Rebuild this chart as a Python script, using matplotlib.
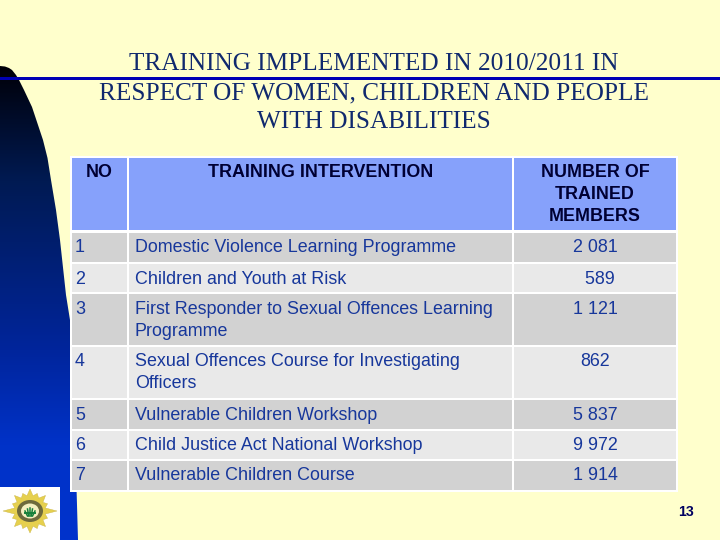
import numpy as np
import matplotlib
matplotlib.use("Agg")
import matplotlib.pyplot as plt
from matplotlib.patches import Rectangle, Polygon, Ellipse
from matplotlib.colors import LinearSegmentedColormap

title_lines = ["TRAINING IMPLEMENTED IN 2010/2011 IN",
               "RESPECT OF WOMEN, CHILDREN AND PEOPLE",
               "WITH DISABILITIES"]
headers = ["NO", "TRAINING INTERVENTION", "NUMBER OF\nTRAINED\nMEMBERS"]
numbers = ["1", "2", "3", "4", "5", "6", "7"]
interventions = ["Domestic Violence Learning Programme",
                 "Children and Youth at Risk",
                 "First Responder to Sexual Offences Learning\nProgramme",
                 "Sexual Offences Course for Investigating\nOfficers",
                 "Vulnerable Children Workshop",
                 "Child Justice Act National Workshop",
                 "Vulnerable Children Course"]
trained = ["2 081", "  589", "1 121", "862", "5 837", "9 972", "1 914"]
page_number = "13"

BG = "#FFFFCC"
HEAD = "#86A1FB"
ROW_D = "#D2D2D2"
ROW_L = "#E9E9E9"
TXT = "#17379B"
TITLE = "#10296E"
SANS = "Liberation Sans"

col_edges = [(72, 127), (129, 512), (514, 676)]
row_edges = [(233, 262), (264, 292), (294, 345), (347, 398), (400, 429), (431, 459), (461, 490)]

fig = plt.figure(figsize=(7.2, 5.4), dpi=100, facecolor=BG)
ax = fig.add_axes([0, 0, 1, 1])
ax.set_xlim(0, 720); ax.set_ylim(540, 0); ax.axis("off")


def lines(x, y, s, ha, **kw):
    for j, part in enumerate(s.split("\n")):
        ax.text(x, y + 22 * j, part, ha=ha, va="baseline", zorder=8, **kw)


# left blue shape with vertical gradient
edge_y = [66, 66.5, 68, 70, 75, 80, 90, 107, 125, 140, 158, 180, 210, 240, 295, 320, 400, 540]
edge_x = [0, 5, 9, 12, 16, 19, 24, 32, 38, 43, 47.5, 51, 56, 60, 66, 70, 74, 78]
cmap = LinearSegmentedColormap.from_list(
    "b", [(0, "#000008"), (0.24, "#001A52"), (0.60, "#00259C"), (0.80, "#0032C8"), (1, "#0033CC")])
grad = np.linspace(0, 1, 256).reshape(-1, 1)
im = ax.imshow(grad, cmap=cmap, extent=(0, 80, 540, 66), aspect="auto", zorder=1)
poly = Polygon(list(zip(edge_x, edge_y)) + [(0, 540)], closed=True, fc="none", ec="none")
ax.add_patch(poly)
im.set_clip_path(poly)
ax.set_xlim(0, 720); ax.set_ylim(540, 0)

# horizontal rule
ax.add_patch(Rectangle((0, 77), 720, 3, fc="#0000B4", ec="none", zorder=2))

# emblem on white
cx, cy = 30, 511
ax.add_patch(Rectangle((0, 487), 60, 53, fc="white", ec="none", zorder=3))
n = 32
ang = np.linspace(0, 2*np.pi, n + 1)[:-1]
rad = np.full(n, 15.5)
rad[::4] = 22.0
rad[2::4] = 19.0
rad[0] = rad[16] = 27.0
rad[8] = rad[24] = 22.0
ax.add_patch(Polygon(np.c_[cx + rad*np.cos(ang), cy + rad*np.sin(ang)], fc="#E6D04E", ec="#C9B445", lw=0.3, zorder=4))
ax.add_patch(Ellipse((cx, cy), 26, 22, fc="#6E6A3C", ec="none", zorder=5))
ax.add_patch(Ellipse((cx, cy), 18, 15, fc="#F4EFC0", ec="none", zorder=6))
for dx, h in zip((-5, -2.5, 0, 2.5, 5), (4, 6, 7, 6, 4)):
    ax.plot([cx + dx*0.5, cx + dx], [cy + 5, cy + 4 - h], color="#15803A", lw=1.1, zorder=7)
ax.plot([cx - 5, cx + 5], [cy + 2, cy + 2], color="#15803A", lw=1.4, zorder=7)

# table
ax.add_patch(Rectangle((70, 156), 608, 336, fc="white", ec="none", zorder=2))
for (x0, x1), h in zip(col_edges, headers):
    ax.add_patch(Rectangle((x0, 158), x1 - x0, 72, fc=HEAD, ec="none", zorder=3))
    lines((x0 + x1) / 2, 177, h, "center", color="#000033", family=SANS, weight="bold", fontsize=12.9)
for i, (y0, y1) in enumerate(row_edges):
    col = ROW_D if i % 2 == 0 else ROW_L
    for (x0, x1) in col_edges:
        ax.add_patch(Rectangle((x0, y0), x1 - x0, y1 - y0, fc=col, ec="none", zorder=3))
    kw = dict(color=TXT, family=SANS, fontsize=12.9)
    lines(75, y0 + 19.5, numbers[i], "left", **kw)
    lines(135, y0 + 19.5, interventions[i], "left", **kw)
    lines(595, y0 + 19.5, trained[i], "center", **kw)

# title
for y, line in zip((70, 99, 128), title_lines):
    ax.text(374, y, line, ha="center", va="baseline", color=TITLE, family="Liberation Serif",
            fontsize=18.2, zorder=8)

ax.text(686, 516, page_number, ha="center", va="baseline", color="#000060",
        family=SANS, weight="bold", fontsize=10.2, zorder=8)

fig.savefig("out.png", dpi=100, facecolor=BG)
